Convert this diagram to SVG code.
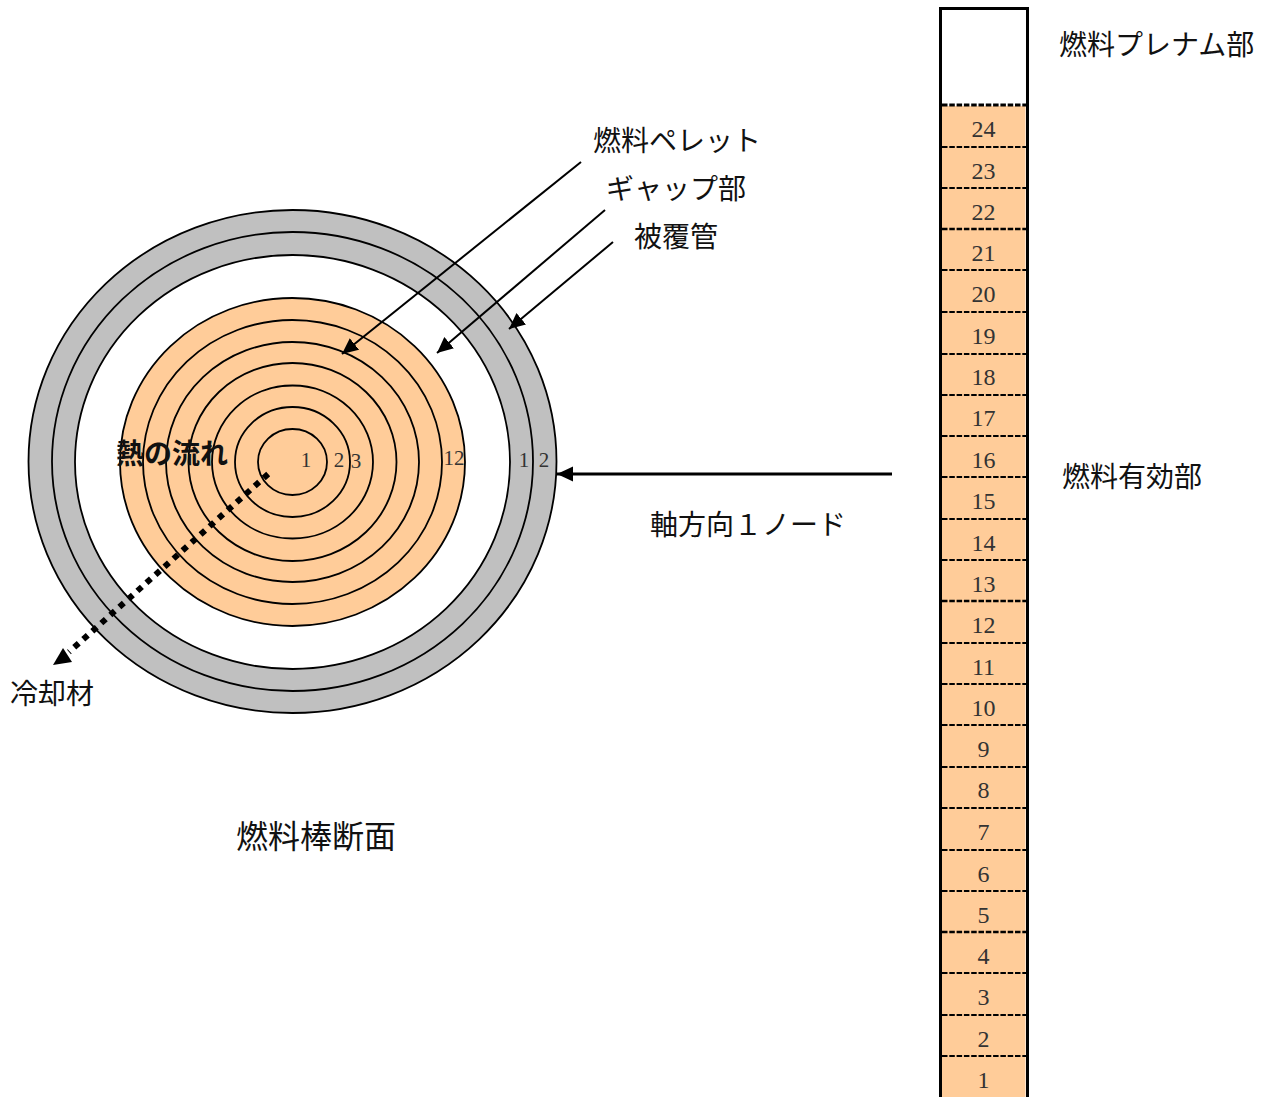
<svg xmlns="http://www.w3.org/2000/svg" width="1271" height="1097" viewBox="0 0 1271 1097">
<style>
.jp{font-family:"Noto Sans CJK JP","Noto Sans",sans-serif;font-size:28px;fill:#111}
.n{font-family:"Liberation Serif","DejaVu Serif",serif;font-size:24px;fill:#333;text-anchor:middle}
.s{font-size:21px}
.r{stroke:#000;stroke-width:1.8}
.p{fill:#ffcc99}
.c{fill:#c0c0c0}
.d{stroke:#000;stroke-width:2;stroke-dasharray:5.5 1.8;fill:none}
.a{stroke:#000;stroke-width:2;fill:none}
</style>
<defs>
<marker id="ah" markerUnits="userSpaceOnUse" markerWidth="18" markerHeight="16" refX="16" refY="7.5" orient="auto"><path d="M0 0L16 7.5L0 15z" fill="#000"/></marker>
</defs>
<g id="cladding">
<ellipse class="r c" cx="292.5" cy="461.5" rx="264" ry="251.5"/>
<ellipse class="r c" cx="292.5" cy="461.5" rx="240.5" ry="229.5"/>
<ellipse class="r" fill="#fff" cx="292.5" cy="462" rx="217.5" ry="207"/>
</g>
<g id="pellet">
<ellipse class="r p" cx="292.5" cy="462" rx="172.5" ry="164"/>
<ellipse class="r p" cx="292.5" cy="462" rx="149.5" ry="142"/>
<ellipse class="r p" cx="292.5" cy="462" rx="126.5" ry="120"/>
<ellipse class="r p" cx="292.5" cy="462" rx="104" ry="99"/>
<ellipse class="r p" cx="292.5" cy="462" rx="80.5" ry="76.5"/>
<ellipse class="r p" cx="292.5" cy="462" rx="57.5" ry="55"/>
<ellipse class="r p" cx="292.5" cy="462" rx="34.5" ry="33"/>
</g>
<g id="rod">
<rect x="942" y="106" width="83.5" height="991" class="p"/>
<path d="M940.5 1097V8.5H1027.5V1097" fill="none" stroke="#000" stroke-width="3"/>
<path class="d" style="stroke-width:3" d="M942 105H1026"/>
<path class="d" d="M942 147H1026M942 188H1026M942 270H1026M942 312H1026M942 354H1026M942 395H1026M942 436H1026M942 477H1026M942 519H1026M942 560H1026M942 643H1026M942 684H1026M942 725H1026M942 767H1026M942 808H1026M942 850H1026M942 891H1026M942 973H1026M942 1015H1026M942 1056H1026"/>
<path class="d" style="stroke-width:2.6" d="M942 229H1026M942 601H1026M942 932H1026"/>
<g class="n">
<text x="983.5" y="137">24</text><text x="983.5" y="179">23</text><text x="983.5" y="220">22</text><text x="983.5" y="261">21</text><text x="983.5" y="302">20</text><text x="983.5" y="344">19</text><text x="983.5" y="385">18</text><text x="983.5" y="426">17</text><text x="983.5" y="468">16</text><text x="983.5" y="509">15</text><text x="983.5" y="551">14</text><text x="983.5" y="592">13</text><text x="983.5" y="633">12</text><text x="983.5" y="675">11</text><text x="983.5" y="716">10</text><text x="983.5" y="757">9</text><text x="983.5" y="798">8</text><text x="983.5" y="840">7</text><text x="983.5" y="882">6</text><text x="983.5" y="923">5</text><text x="983.5" y="964">4</text><text x="983.5" y="1005">3</text><text x="983.5" y="1047">2</text><text x="983.5" y="1088">1</text>
</g>
</g>
<g id="connectors">
<path class="a" d="M581 162L342 354" marker-end="url(#ah)"/>
<path class="a" d="M605 210L437 353" marker-end="url(#ah)"/>
<path class="a" d="M613 242L509 329" marker-end="url(#ah)"/>
<path d="M892 474H557" fill="none" stroke="#000" stroke-width="3" marker-end="url(#ah)"/>
<path d="M268.2 474L69 652" fill="none" stroke="#000" stroke-width="6" stroke-dasharray="6 6.1"/>
<path d="M53 665L63 648L72 662z" fill="#000"/>
</g>
<g id="labels">
<g class="n s">
<text class="s" x="306" y="467">1</text>
<text class="s" x="339" y="467">2</text>
<text class="s" x="356" y="468">3</text>
<text class="s" x="454" y="465">12</text>
<text class="s" x="524" y="467">1</text>
<text class="s" x="544" y="467">2</text>
</g>
<text class="jp" x="116" y="464" style="font-weight:700">熱の流れ</text>
<text class="jp" x="593" y="151">燃料ペレット</text>
<text class="jp" x="606" y="199">ギャップ部</text>
<text class="jp" x="634" y="247">被覆管</text>
<text class="jp" x="1059" y="55">燃料プレナム部</text>
<text class="jp" x="1062" y="487">燃料有効部</text>
<text class="jp" x="650" y="535">軸方向１ノード</text>
<text class="jp" x="10" y="704">冷却材</text>
<text class="jp" x="236" y="848" style="font-size:32px">燃料棒断面</text>
</g>
</svg>
